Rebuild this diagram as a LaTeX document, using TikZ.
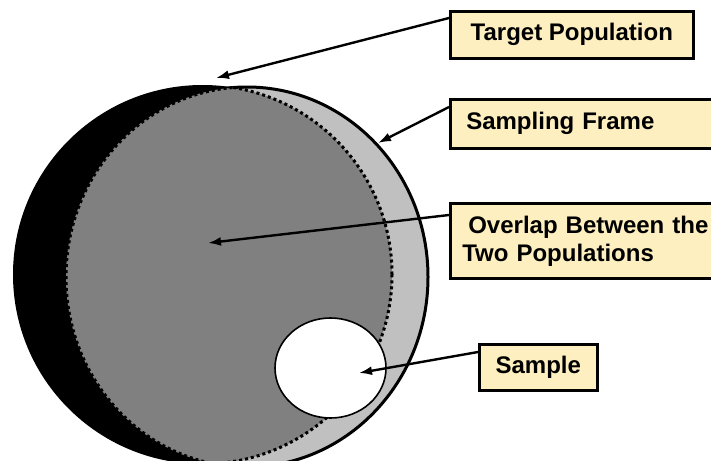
\documentclass[tikz,border=0pt]{standalone}
\usepackage{fontspec}
\setmainfont{Liberation Sans}
\usetikzlibrary{arrows.meta}

\definecolor{midgray}{HTML}{808080}
\definecolor{lightgray2}{HTML}{C0C0C0}
\definecolor{labelfill}{HTML}{FDEFBF}

\tikzset{
  label box/.style={draw=black, line width=2.6pt, fill=labelfill,
    font=\bfseries\fontsize{24}{28}\selectfont, anchor=north west,
    inner ysep=0pt},
  pointer/.style={line width=2.4pt, -{Latex[length=13pt,width=9pt]}},
  overlap edge/.style={line width=3pt, dash pattern=on 3pt off 3pt},
}

\begin{document}
\begin{tikzpicture}[x=1pt, y=-1pt]
\useasboundingbox (0,0) rectangle (711,460);
\clip (0,0) rectangle (711,460);

% target population (black disc) and sampling frame (light grey)
\fill[black] (202.5,274.5) circle[radius=189.5pt];
\fill[lightgray2] (247,277) ellipse[x radius=181pt, y radius=190pt];
\draw[line width=3pt] (247,277) ellipse[x radius=181pt, y radius=190pt];

% overlap between the two populations
\begin{scope}
  \clip (247,277) ellipse[x radius=181pt, y radius=190pt];
  \fill[midgray] (202.5,274.5) circle[radius=189.5pt];
\end{scope}
% dotted borders of the overlap, clipped a little wide so whole dots show
\begin{scope}
  \clip (247,277) ellipse[x radius=182pt, y radius=191pt];
  \draw[overlap edge] (202.5,274.5) circle[radius=189.5pt];
\end{scope}
\begin{scope}
  \clip (202.5,274.5) circle[radius=190.5pt];
  \draw[overlap edge] (247,277) ellipse[x radius=181pt, y radius=190pt];
\end{scope}

% the sample
\draw[line width=1.6pt, fill=white] (330.5,368) ellipse[x radius=55.5pt, y radius=50pt];

% label boxes
\node[label box, minimum width=243pt, minimum height=47pt, align=center]
  (tp) at (449,10) {Target Population};
\node[label box, minimum width=280pt, minimum height=49pt, inner xsep=16pt,
  text width=248pt, align=left]
  (sf) at (449,98) {Sampling Frame};
\node[label box, minimum width=280pt, minimum height=75pt, inner xsep=12pt,
  text width=256pt, align=left]
  (ov) at (449,202) {\hspace*{6pt}Overlap Between the\\Two Populations};
\node[label box, minimum width=118pt, minimum height=46pt, align=center]
  (sa) at (478,343) {Sample};

% arrow tips
\coordinate (tpTip) at (216,78);
\coordinate (sfTip) at (378,143);
\coordinate (ovTip) at (208,243);
\coordinate (saTip) at (359,373);

\draw[pointer] ([yshift=-8pt]tp.north west) -- (tpTip);
\draw[pointer] ([yshift=-9pt]sf.north west) -- (sfTip);
\draw[pointer] ([yshift=-13pt]ov.north west) -- (ovTip);
\draw[pointer] ([yshift=-9pt]sa.north west) -- (saTip);
\end{tikzpicture}
\end{document}
